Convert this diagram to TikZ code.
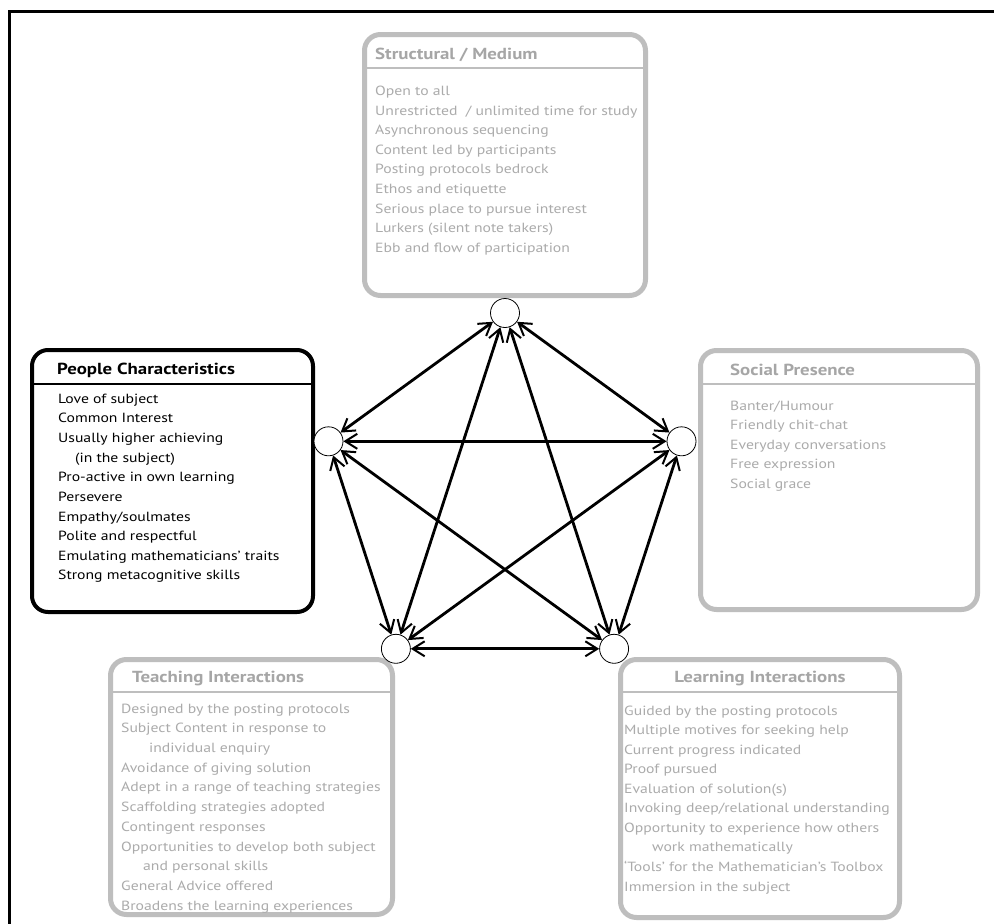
\documentclass[tikz,border=0pt]{standalone}
\usepackage{fontspec}
\setmainfont{PT Sans}[FakeStretch=1.18]
\usetikzlibrary{arrows.meta}
\definecolor{boxgray}{HTML}{BEBEBE}
\definecolor{txtgray}{HTML}{ABABAB}
\definecolor{ttlgray}{HTML}{A6A6A6}
\begin{document}
\begin{tikzpicture}[x=1pt,y=-1pt,
  graybox/.style={draw=boxgray, line width=5pt, rounded corners=16pt, inner sep=0pt, fill=white},
  blackbox/.style={draw=black, line width=4pt, rounded corners=16pt, inner sep=0pt, fill=white},
  item/.style={anchor=base west, inner sep=0pt, font=\fontsize{13.3}{16}\selectfont},
  gitem/.style={item, text=txtgray},
  ttl/.style={anchor=base west, inner sep=0pt, font=\fontsize{16}{18}\selectfont\bfseries},
  gttl/.style={ttl, text=ttlgray},
  gsep/.style={draw=boxgray, line width=1.5pt},
  bsep/.style={draw=black, line width=1.3pt},
  hub/.style={circle, draw=black, line width=0.8pt, minimum size=29pt, inner sep=0pt, fill=white},
  link/.style={line width=2.8pt,
    {Straight Barb[length=12pt,width=15pt,line width=2pt]}-{Straight Barb[length=12pt,width=15pt,line width=2pt]}}
]
\useasboundingbox (0,0) rectangle (994,924);
\fill[white] (0,0) rectangle (994,924);
\draw[line width=3pt] (994,11) -- (9,11) -- (9,924);

% boxes
\node[graybox, minimum width=281pt, minimum height=261pt] (sm) at (505,165) {};
\node[blackbox, minimum width=281pt, minimum height=262pt] (pc) at (172.5,481) {};
\node[graybox, minimum width=277pt, minimum height=259pt] (sp) at (839,480) {};
\node[graybox, minimum width=282pt, minimum height=255pt] (ti) at (251.5,787) {};
\node[graybox, minimum width=279pt, minimum height=258pt] (li) at (760,788.5) {};

% separators
\draw[gsep] (sm.west |- 0,68) -- (sm.east |- 0,68);
\draw[bsep] (pc.west |- 0,384) -- (pc.east |- 0,384);
\draw[gsep] (sp.west |- 0,384) -- (sp.east |- 0,384);
\draw[gsep] (ti.west |- 0,692) -- (ti.east |- 0,692);
\draw[gsep] (li.west |- 0,692) -- (li.east |- 0,692);

% titles
\node[gttl] (smt) at (375,59.5) {Structural / Medium};
\node[ttl] (pct) at (57,374) {People Characteristics};
\node[gttl] (spt) at (730,375.5) {Social Presence};
\node[gttl] (tit) at (132,682) {Teaching Interactions};
\node[gttl, anchor=base] (lit) at (760,682) {Learning Interactions};

% items
\foreach \t [count=\i] in {Open to all, Unrestricted~ / unlimited time for study,
  Asynchronous sequencing, Content led by participants, Posting protocols bedrock,
  Ethos and etiquette, Serious place to pursue interest, Lurkers (silent note takers),
  Ebb and flow of participation}
  \node[gitem] (sm-\i) at (375,{95.5+(\i-1)*19.6}) {\t};

\foreach \t [count=\i] in {Love of subject, Common Interest, Usually higher achieving,
  {\hspace*{17pt}(in the subject)}, Pro-active in own learning, Persevere, Empathy/soulmates,
  Polite and respectful, Emulating mathematicians’ traits, Strong metacognitive skills}
  \node[item] (pc-\i) at (58,{403.3+(\i-1)*19.63}) {\t};

\foreach \t [count=\i] in {Banter/Humour, Friendly chit-chat, Everyday conversations,
  Free expression, Social grace}
  \node[gitem] (sp-\i) at (730,{410+(\i-1)*19.6}) {\t};

\foreach \t [count=\i] in {Designed by the posting protocols, Subject Content in response to,
  {\hspace*{28pt}individual enquiry}, Avoidance of giving solution,
  Adept in a range of teaching strategies, Scaffolding strategies adopted,
  Contingent responses, Opportunities to develop both subject,
  {\hspace*{22pt}and personal skills}, General Advice offered,
  Broadens the learning experiences}
  \node[gitem] (ti-\i) at (121,{713.3+(\i-1)*19.67}) {\t};

\foreach \t [count=\i] in {Guided by the posting protocols, Multiple motives for seeking help,
  Current progress indicated, Proof pursued, Evaluation of solution(s),
  Invoking deep/relational understanding, Opportunity to experience how others,
  {\hspace*{28pt}work mathematically}, ‘Tools’ for the Mathematician’s Toolbox,
  Immersion in the subject}
  \node[gitem] (li-\i) at (624,{715+(\i-1)*19.56}) {\t};

% hubs (regular pentagon)
\node[hub] (hT) at (505,313) {};
\node[hub] (hL) at (328.5,441.3) {};
\node[hub] (hR) at (681.5,441.3) {};
\node[hub] (hBL) at (395.9,648.8) {};
\node[hub] (hBR) at (614.1,648.8) {};

% connectors
\draw[link] (hT) -- (hL);
\draw[link] (hT) -- (hR);
\draw[link] (hT) -- (hBL);
\draw[link] (hT) -- (hBR);
\draw[link] (hL) -- (hR);
\draw[link] (hL) -- (hBL);
\draw[link] (hL) -- (hBR);
\draw[link] (hR) -- (hBL);
\draw[link] (hR) -- (hBR);
\draw[link] (hBL) -- (hBR);
\end{tikzpicture}
\end{document}
